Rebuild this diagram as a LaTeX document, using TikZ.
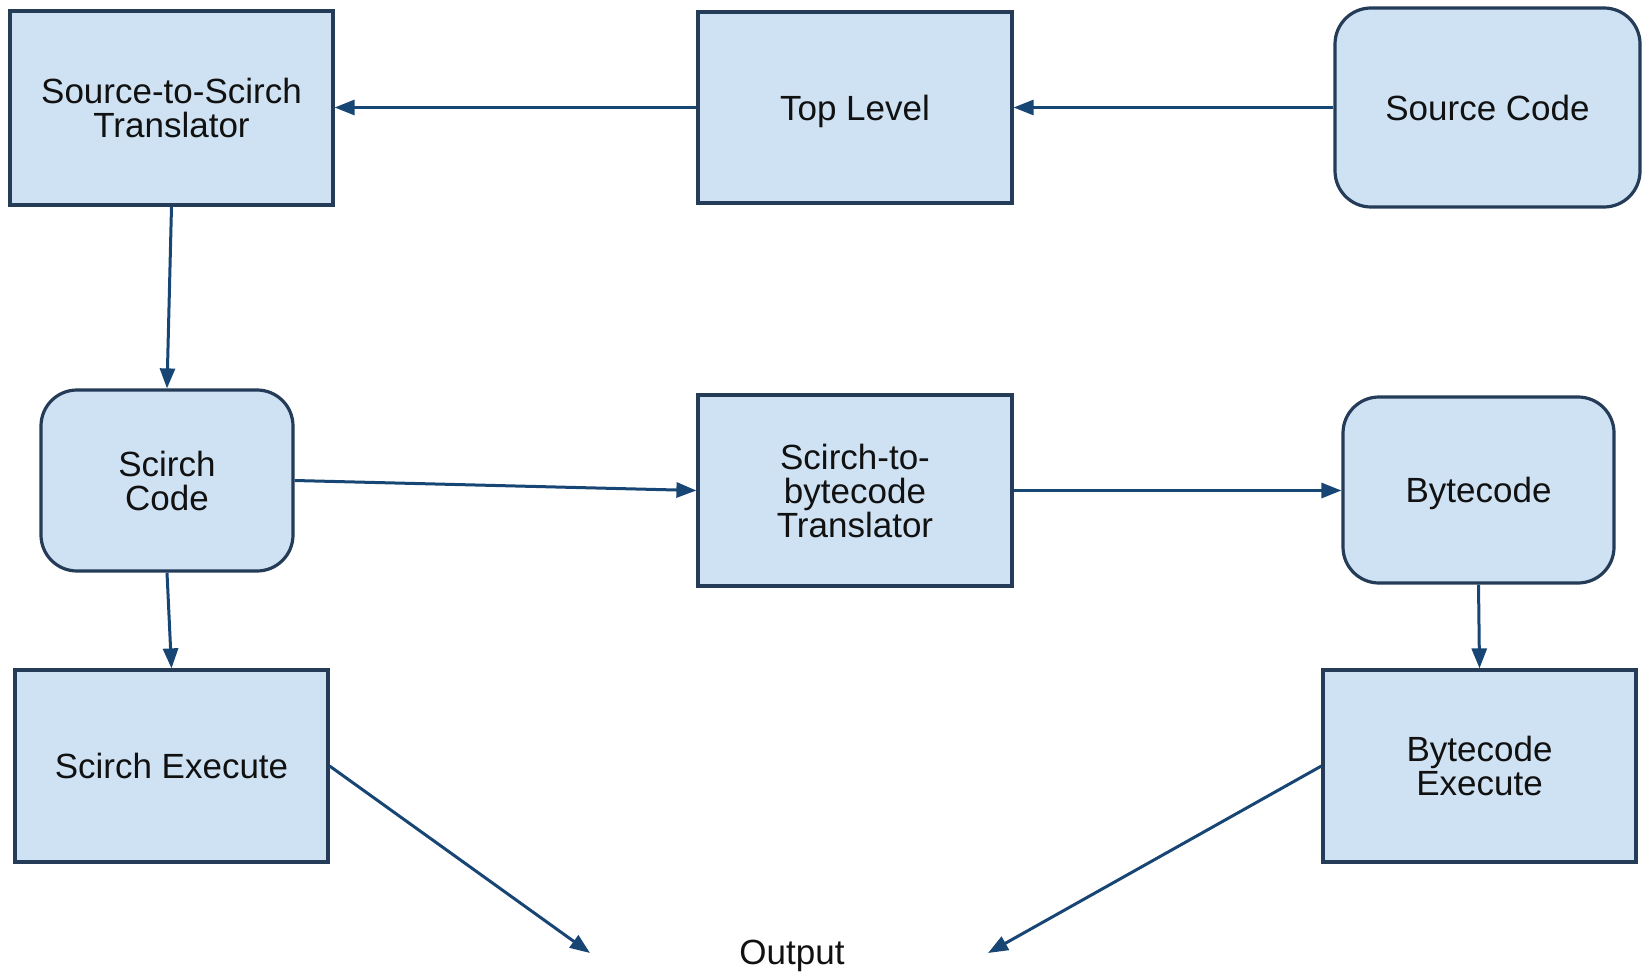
\documentclass[tikz,border=0pt]{standalone}
\usepackage{fontspec}
\setmainfont{Liberation Sans}
\usetikzlibrary{arrows.meta}
\definecolor{boxfill}{RGB}{207,226,243}
\definecolor{boxline}{RGB}{36,60,88}
\definecolor{arrowcol}{RGB}{24,70,116}
\definecolor{txt}{RGB}{17,17,17}
\begin{document}
\begin{tikzpicture}[x=0.5pt,y=-0.5pt,
  boxbase/.style={draw=boxline, fill=boxfill, line width=1.6pt, inner sep=0pt,
    align=center, text=txt, font=\fontsize{17.5}{17}\selectfont},
  sqbox/.style={boxbase, rectangle},
  rdbox/.style={boxbase, rectangle, rounded corners=18pt},
  conn/.style={draw=arrowcol, line width=1.5pt, -{Triangle[length=10pt,width=7.5pt]}},
  plain/.style={text=txt, font=\fontsize{17.5}{17}\selectfont, inner sep=0pt}
]
\useasboundingbox (0,0) rectangle (1642,973);
\node[sqbox, minimum width=161.5pt, minimum height=97pt] (s2s) at (171.5,108) {Source-to-Scirch\\Translator};
\node[sqbox, minimum width=157pt, minimum height=95.5pt, text depth=0pt] (top) at (855,107.5) {Top Level};
\node[rdbox, minimum width=152.5pt, minimum height=99.5pt] (src) at (1487.5,107.5) {Source Code};
\node[rdbox, minimum width=126pt, minimum height=90.5pt] (sc) at (167,480.5) {Scirch\\Code};
\node[sqbox, minimum width=157pt, minimum height=95.5pt] (s2b) at (855,490.5) {Scirch-to-\\bytecode\\Translator};
\node[rdbox, minimum width=135.5pt, minimum height=93pt, text depth=0pt] (bc) at (1478.5,490) {Bytecode};
\node[sqbox, minimum width=156.5pt, minimum height=96pt] (se) at (171.5,766) {Scirch Execute};
\node[sqbox, minimum width=156.5pt, minimum height=96pt] (be) at (1479.5,766) {Bytecode\\Execute};
\node[plain, text depth=0pt] (out) at (792,952) {Output};
\coordinate (o1) at (590,953);
\coordinate (o2) at (988,953);
\draw[conn] (top.west) -- (s2s.east |- top.west);
\draw[conn] (src.west) -- (top.east);
\draw[conn] (s2s.south) -- (sc.north);
\draw[conn] (sc.east) -- (s2b.west);
\draw[conn] (s2b.east) -- (bc.west |- s2b.east);
\draw[conn] (sc.south) -- (se.north);
\draw[conn] (bc.south) -- (be.north);
\draw[conn] (se.east) -- (o1);
\draw[conn] (be.west) -- (o2);
\end{tikzpicture}
\end{document}
